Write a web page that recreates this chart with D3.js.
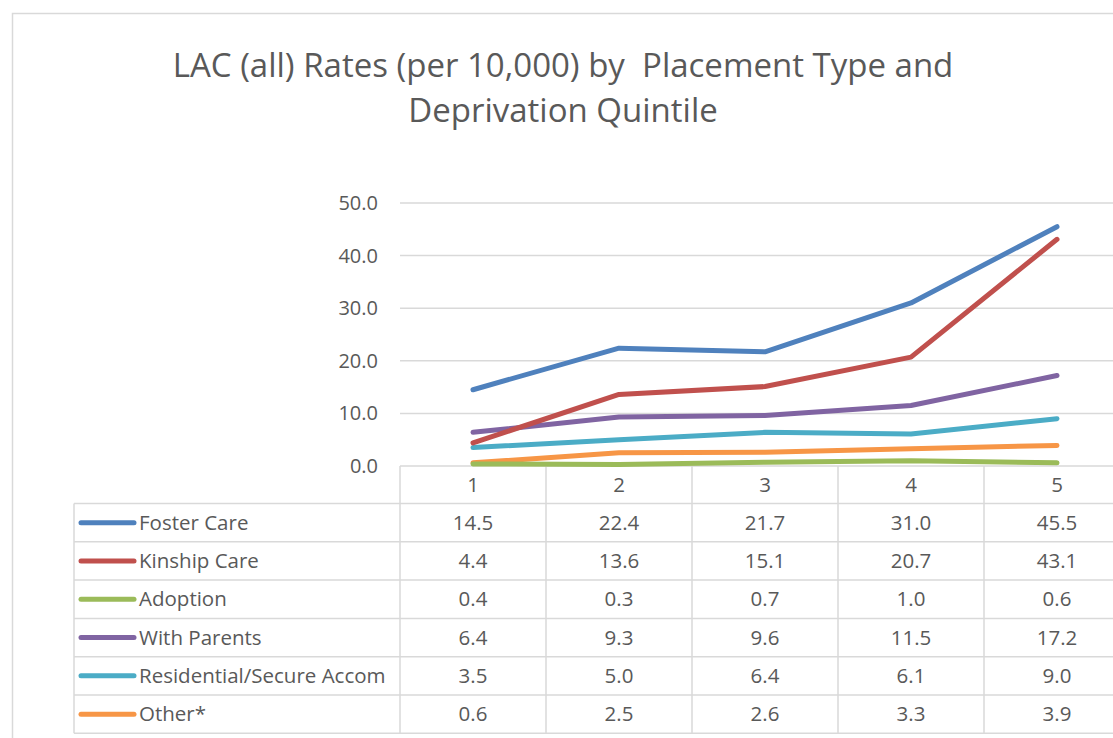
<!DOCTYPE html>
<html>
<head>
<meta charset="utf-8">
<script src="https://cdn.jsdelivr.net/npm/d3@7"></script>
<style>
  html, body { margin: 0; padding: 0; background: #fff; }
  text { font-family: "Open Sans", "Noto Sans", sans-serif; fill: #595959; }
</style>
</head>
<body>
<div id="chart"></div>
<script>
const categories = ["1", "2", "3", "4", "5"];
const seriesNames = ["Foster Care", "Kinship Care", "Adoption", "With Parents", "Residential/Secure Accom", "Other*"];
const fosterCare = [14.5, 22.4, 21.7, 31.0, 45.5];
const kinshipCare = [4.4, 13.6, 15.1, 20.7, 43.1];
const adoption = [0.4, 0.3, 0.7, 1.0, 0.6];
const withParents = [6.4, 9.3, 9.6, 11.5, 17.2];
const residential = [3.5, 5.0, 6.4, 6.1, 9.0];
const other = [0.6, 2.5, 2.6, 3.3, 3.9];
const yTicks = [0, 10, 20, 30, 40, 50];
const colors = ["#4F81BD", "#C0504D", "#9BBB59", "#8064A2", "#4BACC6", "#F79646"];

const series = [fosterCare, kinshipCare, adoption, withParents, residential, other]
    .map((values, i) => ({ name: seriesNames[i], values, color: colors[i] }));

const W = 1113, H = 738;
const grid = "#D9D9D9";

const svg = d3.select("#chart").append("svg")
    .attr("width", W)
    .attr("height", H);

// chart frame
svg.append("rect")
    .attr("x", 12.5).attr("y", 13.5)
    .attr("width", W + 20).attr("height", H + 20)
    .attr("fill", "#fff").attr("stroke", grid).attr("stroke-width", 1.5);

// title
const title = svg.append("text")
    .attr("text-anchor", "middle")
    .style("font-size", "33px")
    .style("white-space", "pre");
title.append("tspan").attr("x", 563).attr("y", 77).text("LAC (all) Rates (per 10,000) by  Placement Type and");
title.append("tspan").attr("x", 563).attr("y", 122).text("Deprivation Quintile");

const x = d3.scaleBand()
    .domain(categories)
    .range([400, 1130])
    .padding(0);

const y = d3.scaleLinear()
    .domain([0, 50])
    .range([466, 203]);

// gridlines
svg.append("g")
    .selectAll("line")
    .data(yTicks)
    .join("line")
    .attr("x1", 400).attr("x2", 1130)
    .attr("y1", d => y(d)).attr("y2", d => y(d))
    .attr("stroke", grid).attr("stroke-width", 1.5);

// y axis labels
svg.append("g")
    .selectAll("text")
    .data(yTicks)
    .join("text")
    .attr("x", 378)
    .attr("y", d => y(d))
    .attr("dy", "0.35em")
    .attr("text-anchor", "end")
    .style("font-size", "20px")
    .text(d => d3.format(".1f")(d));

// table geometry
const tableLeft = 74;
const rowH = 38.3;
const headTop = 466, bodyTop = 503.5;
const tableRight = 1130;
const fs = "20.5px";

const tbl = svg.append("g");
const bounds = categories.map(c => x(c)).concat([x.range()[1]]);

// column verticals
tbl.selectAll(".hv")
    .data(bounds)
    .join("line")
    .attr("x1", d => d).attr("x2", d => d)
    .attr("y1", headTop).attr("y2", bodyTop + rowH * series.length)
    .attr("stroke", grid).attr("stroke-width", 1.5);

// horizontal row lines
tbl.selectAll(".hr")
    .data(d3.range(series.length + 1))
    .join("line")
    .attr("x1", tableLeft).attr("x2", tableRight)
    .attr("y1", i => bodyTop + i * rowH).attr("y2", i => bodyTop + i * rowH)
    .attr("stroke", grid).attr("stroke-width", 1.5);

tbl.append("line")
    .attr("x1", tableLeft).attr("x2", tableLeft)
    .attr("y1", bodyTop).attr("y2", bodyTop + rowH * series.length)
    .attr("stroke", grid).attr("stroke-width", 1.5);

// category labels
tbl.selectAll(".cat")
    .data(categories)
    .join("text")
    .attr("x", d => x(d) + x.bandwidth() / 2)
    .attr("y", (headTop + bodyTop) / 2)
    .attr("dy", "0.35em")
    .attr("text-anchor", "middle")
    .style("font-size", fs)
    .text(d => d);

// rows
const rows = tbl.selectAll(".row")
    .data(series)
    .join("g")
    .attr("transform", (d, i) => `translate(0,${bodyTop + i * rowH + rowH / 2})`);

rows.append("line")
    .attr("x1", 81).attr("x2", 134)
    .attr("stroke", d => d.color)
    .attr("stroke-width", 5)
    .attr("stroke-linecap", "round");

rows.append("text")
    .attr("x", 139)
    .attr("dy", "0.35em")
    .style("font-size", fs)
    .text(d => d.name);

rows.selectAll(".val")
    .data(d => d.values)
    .join("text")
    .attr("x", (v, i) => x(categories[i]) + x.bandwidth() / 2)
    .attr("dy", "0.35em")
    .attr("text-anchor", "middle")
    .style("font-size", fs)
    .text(v => d3.format(".1f")(v));

// lines
const line = d3.line()
    .x((v, i) => x(categories[i]) + x.bandwidth() / 2)
    .y(v => y(v));

svg.append("g")
    .selectAll("path")
    .data(series.slice().reverse())
    .join("path")
    .attr("d", d => line(d.values))
    .attr("fill", "none")
    .attr("stroke", d => d.color)
    .attr("stroke-width", 5)
    .attr("stroke-linecap", "round")
    .attr("stroke-linejoin", "round");
</script>
</body>
</html>
